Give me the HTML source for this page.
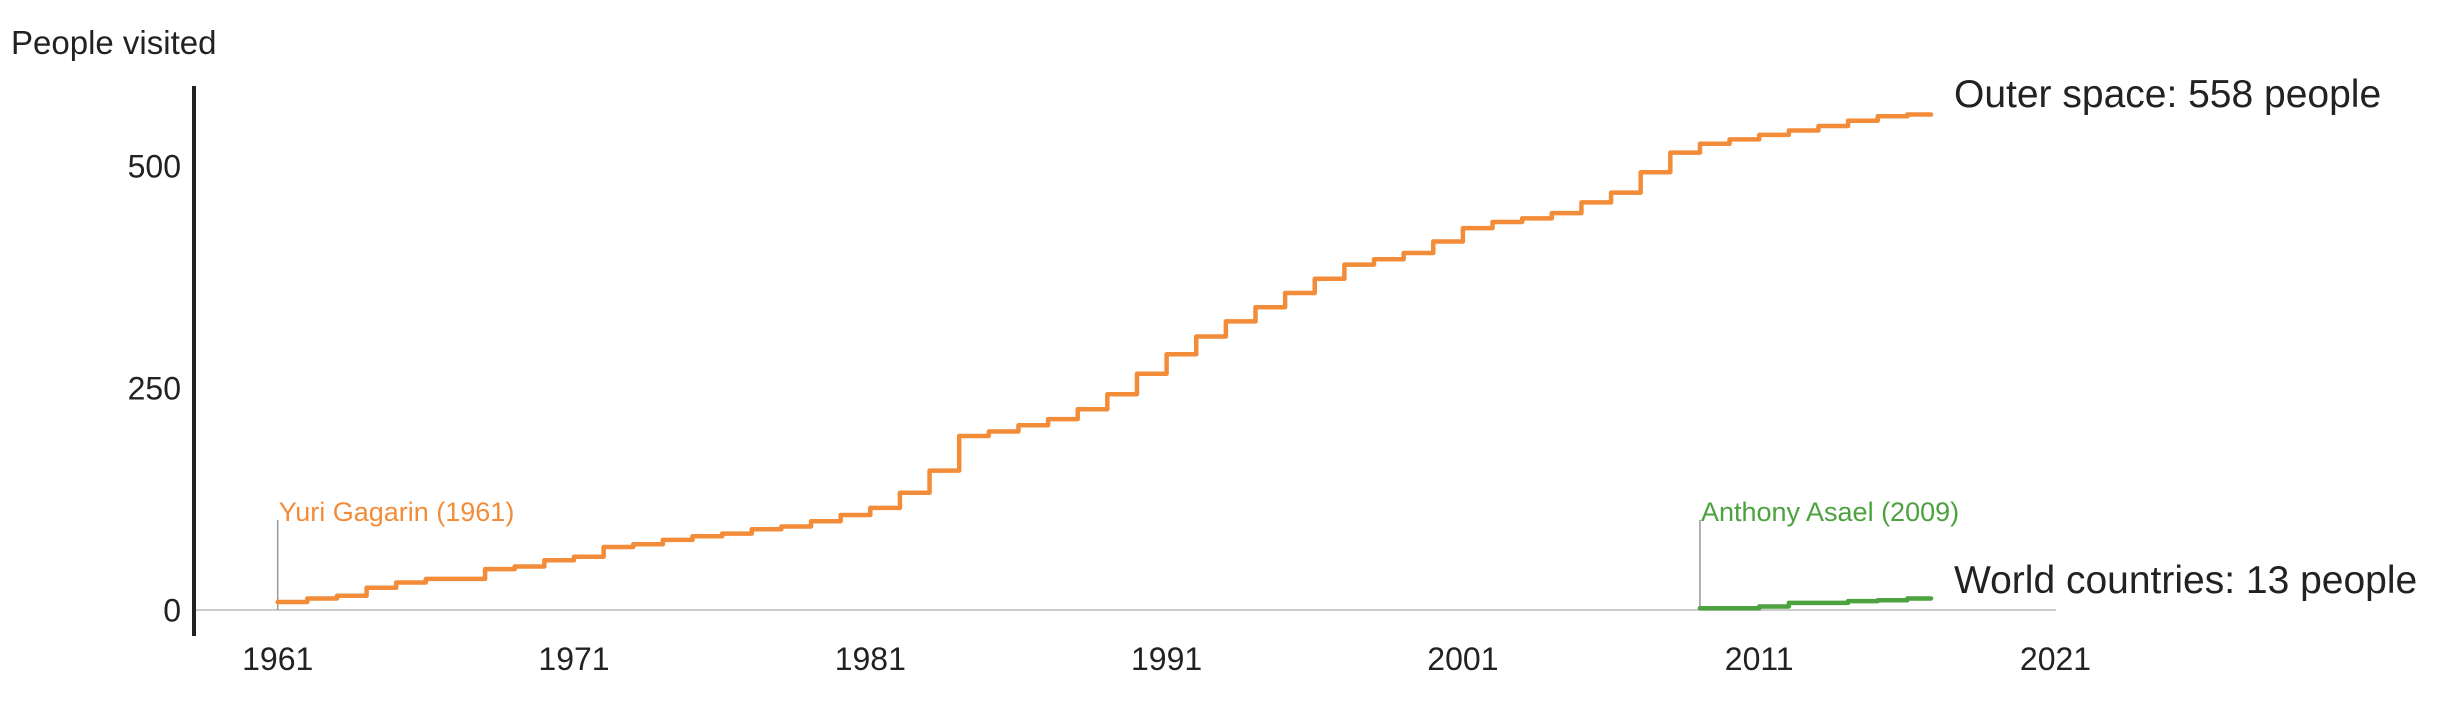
<!DOCTYPE html>
<html><head><meta charset="utf-8">
<style>
html,body{margin:0;padding:0;background:#fff;}
svg{display:block;font-family:"Liberation Sans",Arial,sans-serif;}
</style></head>
<body>
<svg id="chart" width="2438" height="706" viewBox="0 0 2438 706">
  <text x="11" y="54" font-size="33" fill="#222">People visited</text>
  <g id="yticks"></g>
  <g id="xticks"></g>
  <g id="marks"></g>
  <line x1="194" y1="86" x2="194" y2="636" stroke="#222" stroke-width="4"/>
</svg>
<script>
const yTickValues = [0, 250, 500];
const xTickYears = [1961, 1971, 1981, 1991, 2001, 2011, 2021];
const spaceYears = [1961,1962,1963,1964,1965,1966,1967,1968,1969,1970,1971,1972,1973,1974,1975,1976,1977,1978,1979,1980,1981,1982,1983,1984,1985,1986,1987,1988,1989,1990,1991,1992,1993,1994,1995,1996,1997,1998,1999,2000,2001,2002,2003,2004,2005,2006,2007,2008,2009,2010,2011,2012,2013,2014,2015,2016];
const spaceValues = [9,13,16,25,31,35,35,46,49,56,60,71,74,79,83,86,91,94,100,107,115,132,157,196,201,208,215,226,243,266,288,308,325,341,357,373,389,395,402,415,430,437,441,447,459,470,493,515,525,530,535,540,545,551,556,558];
const countryYears = [2009,2010,2011,2012,2013,2014,2015,2016];
const countryValues = [2,2,4,8,8,10,11,13];
const lastYearEnd = 2016.8;
const spaceLabel = "Outer space: 558 people";
const countryLabel = "World countries: 13 people";

const NS = "http://www.w3.org/2000/svg";
const x = yr => 277.7 + (yr - 1961) * 29.63;
const y = v => 610 - v * 0.888;
function mk(tag, attrs, parent){ const e=document.createElementNS(NS,tag); for(const k in attrs) e.setAttribute(k,attrs[k]); parent.appendChild(e); return e; }

const yt = document.getElementById('yticks');
yTickValues.forEach(v=>{
  const t = mk('text',{x:181,y:y(v)+11.5,'font-size':32,fill:'#222','text-anchor':'end'},yt);
  t.textContent = v;
  
  
});
const xt = document.getElementById('xticks');
xTickYears.forEach(v=>{
  const t = mk('text',{x:x(v),y:670,'font-size':32,fill:'#222','text-anchor':'middle'},xt);
  t.textContent = v;
  
  
});

const g = document.getElementById('marks');
const base = mk('line',{x1:196,y1:y(0),x2:2056,y2:y(0),stroke:'#c4c4c4','stroke-width':1.8},g);



function stepPath(years, vals){
  let d = '';
  years.forEach((yr,i)=>{
    const end = i < years.length-1 ? years[i+1] : lastYearEnd;
    d += (i===0 ? 'M' : 'L') + x(yr) + ' ' + y(vals[i]) + ' L' + x(end) + ' ' + y(vals[i]) + ' ';
  });
  return d;
}

const l1 = mk('line',{x1:x(spaceYears[0]),y1:520,x2:x(spaceYears[0]),y2:y(0),stroke:'#999','stroke-width':1.5},g);


const a1 = mk('text',{x:x(spaceYears[0])+1,y:521,'font-size':27,fill:'#f28c38'},g);
a1.textContent = 'Yuri Gagarin (1961)';


const l2 = mk('line',{x1:x(countryYears[0]),y1:520,x2:x(countryYears[0]),y2:y(0),stroke:'#999','stroke-width':1.5},g);


const a2 = mk('text',{x:x(countryYears[0])+1,y:521,'font-size':27,fill:'#4ca23e'},g);
a2.textContent = 'Anthony Asael (2009)';



const p1 = mk('path',{d:stepPath(spaceYears,spaceValues),fill:'none',stroke:'#f28c38','stroke-width':4.5,'stroke-linejoin':'round','stroke-linecap':'round'},g);


const p2 = mk('path',{d:stepPath(countryYears,countryValues),fill:'none',stroke:'#4ca23e','stroke-width':4.5,'stroke-linejoin':'round','stroke-linecap':'round'},g);



const e1 = mk('text',{x:1954,y:107,'font-size':39,fill:'#222'},g);
e1.textContent = spaceLabel;


const e2 = mk('text',{x:1954,y:593,'font-size':39,fill:'#222'},g);
e2.textContent = countryLabel;


</script>
</body></html>
